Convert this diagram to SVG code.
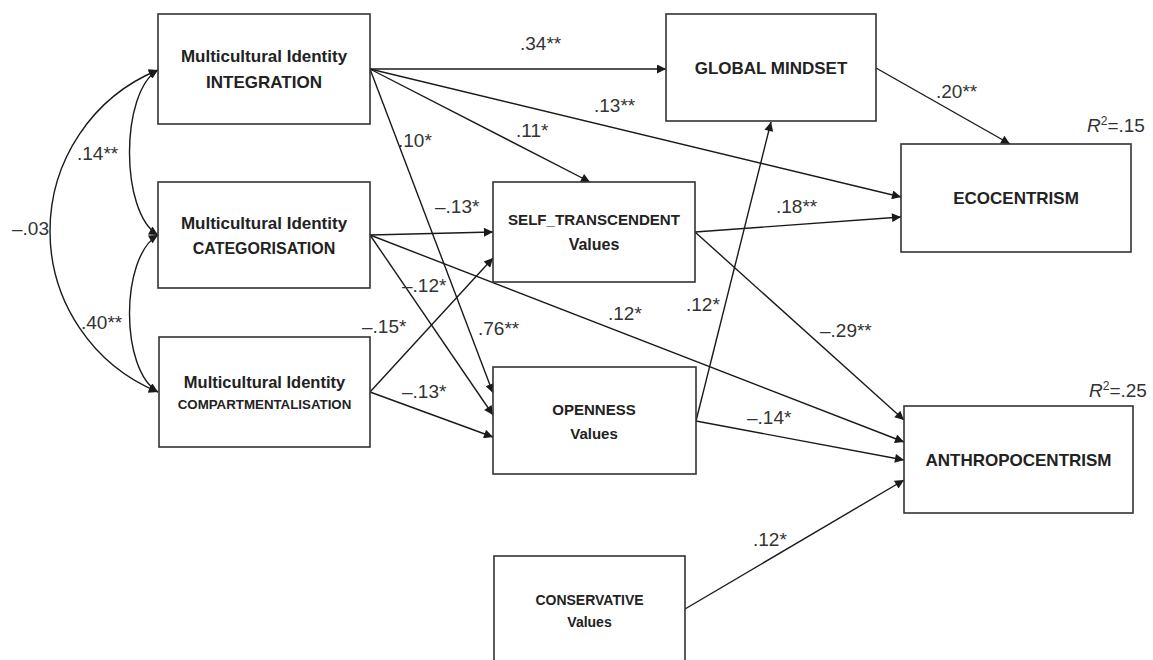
<svg xmlns="http://www.w3.org/2000/svg" width="1153" height="660" viewBox="0 0 1153 660">
<defs>
<style>
.box{fill:#fff;stroke:#333;stroke-width:1.6}
.nt{font-family:"Liberation Sans",Arial,sans-serif;font-weight:bold;fill:#222;text-anchor:middle}
.lb{font-family:"Liberation Sans",Arial,sans-serif;font-size:19px;fill:#333}
.ln{fill:none;stroke:#1a1a1a;stroke-width:1.4;marker-end:url(#ah)}
.cv{fill:none;stroke:#1a1a1a;stroke-width:1.4;marker-start:url(#ah);marker-end:url(#ah)}
</style>
<marker id="ah" viewBox="0 0 10 10" refX="10" refY="5" markerWidth="11" markerHeight="9" markerUnits="userSpaceOnUse" orient="auto-start-reverse">
<path d="M0,0 L10,5 L0,10 z" fill="#1a1a1a"/>
</marker>
</defs>
<rect width="1153" height="660" fill="#fff"/>

<g id="connectors">
<path class="ln" d="M370,69 L666,69"/>
<path class="ln" d="M370,69 L901,197"/>
<path class="ln" d="M370,69 L590,182"/>
<path class="ln" d="M370,69 L493,393"/>
<path class="ln" d="M370,235 L493,232"/>
<path class="ln" d="M370,235 L493,415"/>
<path class="ln" d="M370,235 L904,442"/>
<path class="ln" d="M370,392 L493,258"/>
<path class="ln" d="M370,392 L493,437"/>
<path class="ln" d="M695,232 L901,217"/>
<path class="ln" d="M695,232 L904,420"/>
<path class="ln" d="M696,421 L771,122"/>
<path class="ln" d="M696,421 L904,460"/>
<path class="ln" d="M876,68 L1010,144"/>
<path class="ln" d="M685,609 L904,480"/>
<path class="cv" d="M158,70 C120,92 120,213 158,235"/>
<path class="cv" d="M158,235 C120,257 120,370 158,392"/>
<path class="cv" d="M158,70 A174,174 0 0 0 158,392"/>
</g>

<g id="integration">
<rect class="box" x="158" y="14" width="212" height="110"/>
<text class="nt" x="264" y="62" font-size="17">Multicultural Identity</text>
<text class="nt" x="264" y="88" font-size="17">INTEGRATION</text>
</g>
<g id="categorisation">
<rect class="box" x="158" y="182" width="212" height="106"/>
<text class="nt" x="264" y="229" font-size="17">Multicultural Identity</text>
<text class="nt" x="264" y="254" font-size="16">CATEGORISATION</text>
</g>
<g id="compartmentalisation">
<rect class="box" x="159" y="337" width="211" height="110"/>
<text class="nt" x="264.5" y="388" font-size="16.5">Multicultural Identity</text>
<text class="nt" x="264.5" y="409" font-size="13.3">COMPARTMENTALISATION</text>
</g>
<g id="global">
<rect class="box" x="666" y="14" width="210" height="107"/>
<text class="nt" x="771" y="74" font-size="17">GLOBAL MINDSET</text>
</g>
<g id="eco">
<rect class="box" x="901" y="144" width="230" height="108"/>
<text class="nt" x="1016" y="204" font-size="17">ECOCENTRISM</text>
</g>
<g id="self">
<rect class="box" x="493" y="182" width="202" height="100"/>
<text class="nt" x="594" y="225" font-size="15.5" textLength="172" lengthAdjust="spacingAndGlyphs">SELF_TRANSCENDENT</text>
<text class="nt" x="594" y="250" font-size="16">Values</text>
</g>
<g id="openness">
<rect class="box" x="493" y="367" width="203" height="107"/>
<text class="nt" x="594" y="415" font-size="15">OPENNESS</text>
<text class="nt" x="594" y="439" font-size="15">Values</text>
</g>
<g id="anthro">
<rect class="box" x="904" y="406" width="229" height="107"/>
<text class="nt" x="1018.5" y="466" font-size="17">ANTHROPOCENTRISM</text>
</g>
<g id="conservative">
<rect class="box" x="494" y="556" width="191" height="112"/>
<text class="nt" x="589.5" y="605" font-size="14">CONSERVATIVE</text>
<text class="nt" x="589.5" y="627" font-size="14">Values</text>
</g>

<g id="labels">
<text class="lb" x="520" y="50">.34**</text>
<text class="lb" x="594" y="112">.13**</text>
<text class="lb" x="516" y="137">.11*</text>
<text class="lb" x="398" y="147">.10*</text>
<text class="lb" x="435" y="213">–.13*</text>
<text class="lb" x="402" y="292">–.12*</text>
<text class="lb" x="362" y="333">–.15*</text>
<text class="lb" x="478" y="335">.76**</text>
<text class="lb" x="402" y="398">–.13*</text>
<text class="lb" x="608" y="320">.12*</text>
<text class="lb" x="686" y="311">.12*</text>
<text class="lb" x="776" y="213">.18**</text>
<text class="lb" x="936" y="98">.20**</text>
<text class="lb" x="1087" y="132"><tspan font-style="italic">R</tspan><tspan font-size="12" dy="-7">2</tspan><tspan dy="7">=.15</tspan></text>
<text class="lb" x="820" y="337">–.29**</text>
<text class="lb" x="1089" y="397"><tspan font-style="italic">R</tspan><tspan font-size="12" dy="-7">2</tspan><tspan dy="7">=.25</tspan></text>
<text class="lb" x="747" y="424">–.14*</text>
<text class="lb" x="753" y="546">.12*</text>
<text class="lb" x="77" y="160">.14**</text>
<text class="lb" x="12" y="235">–.03</text>
<text class="lb" x="81" y="329">.40**</text>
</g>
</svg>
